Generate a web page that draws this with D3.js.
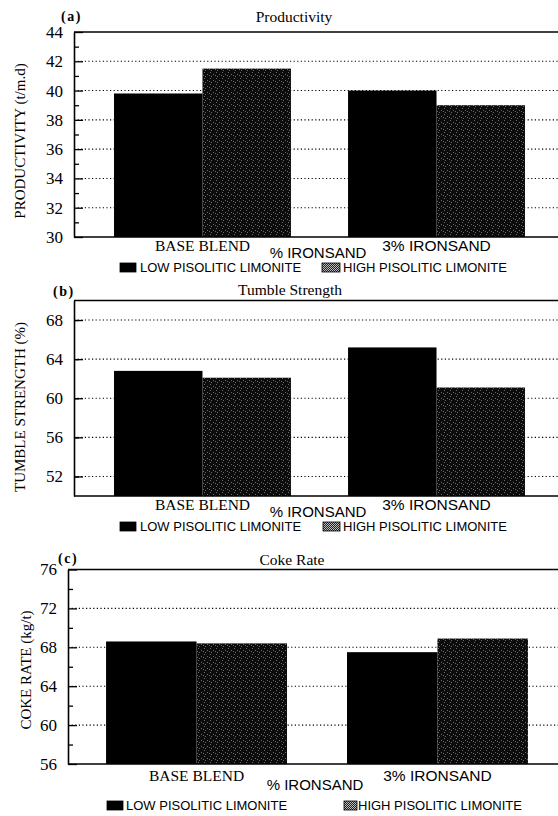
<!DOCTYPE html>
<html><head><meta charset="utf-8">
<script src="https://cdn.jsdelivr.net/npm/d3@7/dist/d3.min.js"></script>
<style>body{margin:0;background:#fff}svg{display:block}</style>
</head><body>
<script>
// ---- data ----
const categories = ["BASE BLEND", "3% IRONSAND"];
const seriesNames = ["LOW PISOLITIC LIMONITE", "HIGH PISOLITIC LIMONITE"];
const productivityLow = [39.8, 40.0];
const productivityHigh = [41.5, 39.0];
const tumbleLow = [62.8, 65.2];
const tumbleHigh = [62.1, 61.1];
const cokeLow = [68.6, 67.5];
const cokeHigh = [68.4, 68.9];
const productivityTicks = [30, 32, 34, 36, 38, 40, 42, 44];
const tumbleTicks = [52, 56, 60, 64, 68];
const cokeTicks = [56, 60, 64, 68, 72, 76];

const W = 558, H = 816;
const svg = d3.select("body").append("svg").attr("width", W).attr("height", H);
const defs = svg.append("defs");
// stipple texture for high-pisolitic bars
const pat = defs.append("pattern").attr("id", "stip").attr("patternUnits", "userSpaceOnUse")
  .attr("width", 6).attr("height", 6);
pat.append("rect").attr("width", 6).attr("height", 6).attr("fill", "#0c0c0c");
[[0,0],[3,2],[1,4],[5,3]].forEach(([x,y]) => pat.append("rect").attr("x", x).attr("y", y)
  .attr("width", 1).attr("height", 1).attr("fill", "#6a6a6a"));
const pat2 = defs.append("pattern").attr("id", "check").attr("patternUnits", "userSpaceOnUse")
  .attr("width", 2).attr("height", 2);
pat2.append("rect").attr("width", 2).attr("height", 2).attr("fill", "#222");
pat2.append("rect").attr("width", 1).attr("height", 1).attr("fill", "#bbb");
pat2.append("rect").attr("x", 1).attr("y", 1).attr("width", 1).attr("height", 1).attr("fill", "#bbb");

const serif = "'Liberation Serif','Times New Roman',serif";
const sans = "'Liberation Sans',Arial,sans-serif";

const panels = [
  { letter: "(a)", title: "Productivity", ylab: "PRODUCTIVITY (t/m.d)", low: productivityLow, high: productivityHigh,
    ticks: productivityTicks, domain: [30, 44], minorStep: 2,
    left: 74, top: 32, bottom: 237, rEnd: 565, pi: 0.244, po: 0.171,
    letterX: 61, letterY: 21, titleX: 294, titleY: 22, ylabX: 25, ylabY: 141,
    legX: [120, 322], legW: [16, 18], legTx: [140, 343], catDy: 14, axDy: 21, legDy: 35 },
  { letter: "(b)", title: "Tumble Strength", ylab: "TUMBLE STRENGTH (%)", low: tumbleLow, high: tumbleHigh,
    ticks: tumbleTicks, domain: [50, 70], minorStep: 4,
    left: 74, top: 300.5, bottom: 496, rEnd: 565, pi: 0.244, po: 0.171,
    letterX: 53, letterY: 296, titleX: 290, titleY: 295, ylabX: 25, ylabY: 407,
    legX: [120, 323], legW: [16, 17], legTx: [140, 343], catDy: 14, axDy: 21, legDy: 35 },
  { letter: "(c)", title: "Coke Rate", ylab: "COKE RATE (kg/t)", low: cokeLow, high: cokeHigh,
    ticks: cokeTicks, domain: [56, 76], minorStep: 4,
    left: 68, top: 569.5, bottom: 764, rEnd: 566, pi: 0.249, po: 0.158,
    letterX: 58, letterY: 563, titleX: 292, titleY: 565, ylabX: 31, ylabY: 670,
    legX: [107, 344], legW: [16, 13], legTx: [126, 358], catDy: 17, axDy: 26, legDy: 46 }
];

panels.forEach(p => {
  const g = svg.append("g");
  const y = d3.scaleLinear().domain(p.domain).range([p.bottom, p.top]);
  const x = d3.scaleBand().domain(categories).range([p.left, p.rEnd]).paddingInner(p.pi).paddingOuter(p.po);
  const x1 = d3.scaleBand().domain([0, 1]).range([0, x.bandwidth()]);

  const grid = p.ticks.filter(t => t > p.domain[0] && t < p.domain[1]);
  g.selectAll(".grid").data(grid).join("line")
    .attr("x1", p.left).attr("x2", W).attr("y1", d => y(d)).attr("y2", d => y(d))
    .attr("stroke", "#000").attr("stroke-width", 1.1).attr("stroke-dasharray", "1.2,2.4");

  categories.forEach((c, i) => {
    [p.low[i], p.high[i]].forEach((v, j) => {
      g.append("rect").attr("x", x(c) + x1(j)).attr("y", y(v))
        .attr("width", x1.bandwidth()).attr("height", y(p.domain[0]) - y(v))
        .attr("fill", j === 0 ? "#000" : "url(#stip)");
    });
  });

  const ax = d3.axisLeft(y).tickValues(p.ticks).tickSizeInner(-9).tickSizeOuter(0).tickPadding(11)
    .tickFormat(d3.format("d"));
  const ag = g.append("g").attr("transform", `translate(${p.left},0)`).call(ax);
  ag.select(".domain").attr("stroke-width", 1.6);
  ag.selectAll(".tick line").attr("stroke-width", 1.3);
  ag.selectAll("text").attr("font-family", serif).attr("font-size", 17).attr("fill", "#000");
  const minor = d3.range(p.domain[0] + p.minorStep / 2, p.domain[1], p.minorStep);
  const mg = g.append("g").attr("transform", `translate(${p.left},0)`)
    .call(d3.axisLeft(y).tickValues(minor).tickSizeInner(-5).tickSizeOuter(0).tickFormat(""));
  mg.select(".domain").remove();
  mg.selectAll(".tick line").attr("stroke-width", 1.3);

  g.append("line").attr("x1", p.left).attr("x2", W).attr("y1", p.bottom).attr("y2", p.bottom)
    .attr("stroke", "#000").attr("stroke-width", 1.6);
  g.append("line").attr("x1", p.left).attr("x2", W).attr("y1", p.top).attr("y2", p.top)
    .attr("stroke", "#000").attr("stroke-width", 1.6);

  g.append("text").attr("x", p.letterX).attr("y", p.letterY).attr("font-family", serif)
    .attr("font-size", 14).attr("font-weight", "bold").attr("letter-spacing", 1.5).text(p.letter);
  g.append("text").attr("x", p.titleX).attr("y", p.titleY).attr("text-anchor", "middle")
    .attr("font-family", serif).attr("font-size", 15.5).text(p.title);
  g.append("text").attr("transform", `translate(${p.ylabX},${p.ylabY}) rotate(-90)`)
    .attr("text-anchor", "middle").attr("font-family", serif).attr("font-size", 15).text(p.ylab);

  g.selectAll(".cat").data(categories).join("text")
    .attr("x", d => x(d) + x.bandwidth() / 2).attr("y", p.bottom + p.catDy)
    .attr("text-anchor", "middle").attr("font-size", 15.5)
    .attr("font-family", (d, i) => i === 0 ? serif : sans).text(d => d);
  g.append("text").attr("x", (p.left + W) / 2 + 2).attr("y", p.bottom + p.axDy)
    .attr("text-anchor", "middle").attr("font-family", sans).attr("font-size", 15).text("% IRONSAND");

  seriesNames.forEach((s, j) => {
    g.append("rect").attr("x", p.legX[j]).attr("y", p.bottom + p.legDy - 9)
      .attr("width", p.legW[j]).attr("height", 9)
      .attr("fill", j === 0 ? "#000" : "url(#check)").attr("stroke", "#000").attr("stroke-width", 0.8);
    g.append("text").attr("x", p.legTx[j]).attr("y", p.bottom + p.legDy)
      .attr("font-family", sans).attr("font-size", 13).text(s);
  });
});
</script>
</body></html>
